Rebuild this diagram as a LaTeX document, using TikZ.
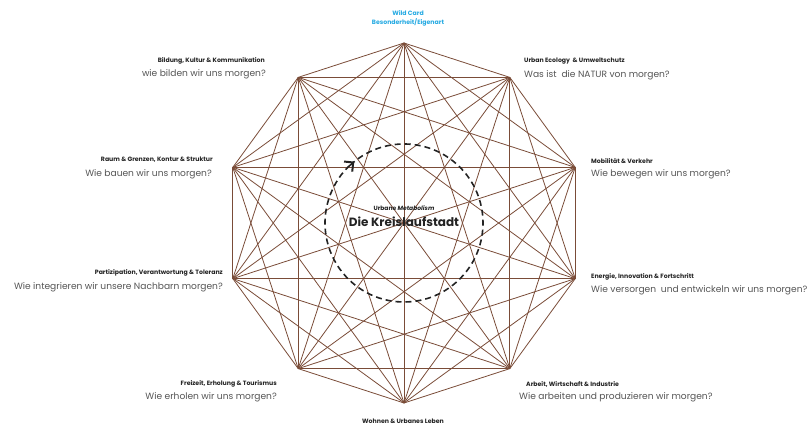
\documentclass[tikz,border=0pt]{standalone}
\usepackage{fontspec}
\setmainfont{Poppins}
\usetikzlibrary{arrows.meta}
\definecolor{webbrown}{RGB}{122,76,56}
\definecolor{headgray}{RGB}{35,35,35}
\definecolor{askgray}{RGB}{85,85,85}
\definecolor{wildcyan}{RGB}{38,170,226}
\begin{document}
\begin{tikzpicture}[x=1pt,y=1pt,
  web/.style={draw=webbrown, line width=0.8pt},
  topic/.style={font=\fontsize{6.2}{7}\selectfont\bfseries, text=headgray, inner sep=0pt},
  question/.style={font=\fontsize{9.1}{10}\selectfont, text=askgray, inner sep=0pt},
  wild/.style={font=\fontsize{6.2}{7}\selectfont\bfseries, text=wildcyan, inner sep=0pt},
  ring/.style={draw=headgray, line width=1.6pt, dash pattern=on 6pt off 4pt,
    -{Straight Barb[length=6.5pt,width=13pt,line width=2pt]}}]
\useasboundingbox (0,0) rectangle (808,430);

% ten corners of the web
\coordinate (c) at (404,207);
\foreach \i in {0,...,9}
  \path (c) ++(90-36*\i:180) coordinate (v\i);

% every corner joined to every other corner
\foreach \i in {0,...,8} {
  \pgfmathtruncatemacro\nxt{\i+1}
  \foreach \j in {\nxt,...,9}
    \draw[web] (v\i) -- (v\j);
}

% dashed cycle with arrow
\draw[ring] (c) ++(133:79) arc[start angle=133, end angle=-231, radius=79];

% centre title
\node[font=\fontsize{6}{7}\selectfont\bfseries, text=headgray, inner sep=0pt] (sub) at (404,222)
  {Urbane \textit{Metabolism}};
\node[font=\fontsize{12}{14}\selectfont\bfseries, text=headgray, inner sep=0pt] (title) at (404,208)
  {Die Kreislaufstadt};

% topics around the web
\node[wild] (w1) at (408,417) {Wild Card};
\node[wild] (w2) at (408,408) {Besonderheit/Eigenart};

\node[topic, anchor=east] (t1) at (265,369) {Bildung, Kultur \& Kommunikation};
\node[question, anchor=east] (q1) at (266,356) {wie bilden wir uns morgen?};

\node[topic, anchor=west] (t2) at (524,369) {Urban Ecology\ \ \& Umweltschutz};
\node[question, anchor=west] (q2) at (524,355) {Was ist\ \ die NATUR von morgen?};

\node[topic, anchor=east] (t3) at (213,270) {Raum \& Grenzen, Kontur \& Struktur};
\node[question, anchor=east] (q3) at (212,256) {Wie bauen wir uns morgen?};

\node[topic, anchor=west] (t4) at (591,269) {Mobilität \& Verkehr};
\node[question, anchor=west] (q4) at (591,256) {Wie bewegen wir uns morgen?};

\node[topic, anchor=east] (t5) at (223,157) {Partizipation, Verantwortung \& Toleranz};
\node[question, anchor=east] (q5) at (223,143) {Wie integrieren wir unsere Nachbarn morgen?};

\node[topic, anchor=west] (t6) at (591,153) {Energie, Innovation \& Fortschritt};
\node[question, anchor=west] (q6) at (591,140) {Wie versorgen\ \ und entwickeln wir uns morgen?};

\node[topic, anchor=east] (t7) at (277,46) {Freizeit, Erholung \& Tourismus};
\node[question, anchor=east] (q7) at (277,33) {Wie erholen wir uns morgen?};

\node[topic, anchor=west] (t8) at (526,46) {Arbeit, Wirtschaft \& Industrie};
\node[question, anchor=west] (q8) at (519,33) {Wie arbeiten und produzieren wir morgen?};

\node[topic] (t9) at (403,9) {Wohnen \& Urbanes Leben};
\end{tikzpicture}
\end{document}
